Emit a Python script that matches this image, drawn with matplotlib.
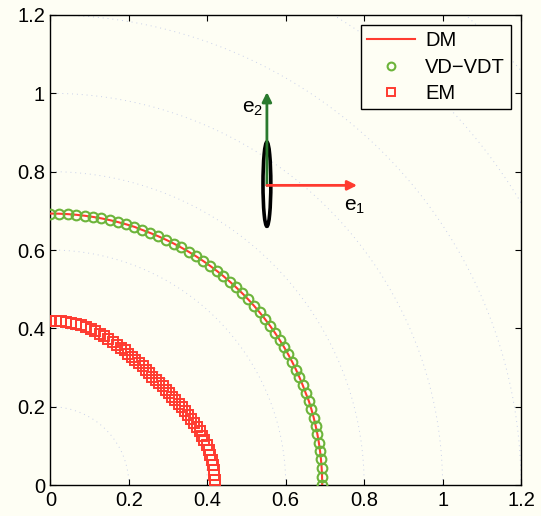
import numpy as np
import matplotlib
matplotlib.use('Agg')
import matplotlib.pyplot as plt
from matplotlib.patches import Ellipse

plt.rcParams['font.family'] = ['Liberation Sans', 'DejaVu Sans']
plt.rcParams['mathtext.fontset'] = 'custom'
plt.rcParams['mathtext.rm'] = 'Liberation Sans'
plt.rcParams['mathtext.it'] = 'Liberation Sans'

# angle of each sample (degrees), 0 .. 90
theta_deg = [0, 1.8, 3.6, 5.4, 7.2, 9, 10.8, 12.6, 14.4, 16.2, 18, 19.8, 21.6, 23.4, 25.2,
             27, 28.8, 30.6, 32.4, 34.2, 36, 37.8, 39.6, 41.4, 43.2, 45, 46.8, 48.6, 50.4,
             52.2, 54, 55.8, 57.6, 59.4, 61.2, 63, 64.8, 66.6, 68.4, 70.2, 72, 73.8, 75.6,
             77.4, 79.2, 81, 82.8, 84.6, 86.4, 88.2, 90]

# outer curve (DM line and VD-VDT markers lie on it)
r_dm = [0.693, 0.693, 0.693, 0.693, 0.693, 0.693, 0.693, 0.693, 0.693, 0.693, 0.693,
        0.692, 0.692, 0.692, 0.692, 0.692, 0.692, 0.692, 0.692, 0.692, 0.692, 0.692,
        0.692, 0.692, 0.692, 0.692, 0.692, 0.692, 0.692, 0.692, 0.692, 0.692, 0.692,
        0.692, 0.692, 0.692, 0.692, 0.692, 0.692, 0.692, 0.693, 0.693, 0.693, 0.693,
        0.693, 0.693, 0.693, 0.693, 0.693, 0.693, 0.693]
r_vdvdt = r_dm

# inner curve (EM)
r_em = [0.420, 0.420, 0.419, 0.419, 0.418, 0.416, 0.415, 0.413, 0.411, 0.409, 0.406,
        0.404, 0.401, 0.399, 0.396, 0.394, 0.392, 0.389, 0.387, 0.385, 0.384, 0.383,
        0.381, 0.381, 0.380, 0.380, 0.380, 0.381, 0.381, 0.383, 0.384, 0.385, 0.387,
        0.389, 0.392, 0.394, 0.396, 0.399, 0.401, 0.404, 0.406, 0.409, 0.411, 0.413,
        0.415, 0.416, 0.418, 0.419, 0.419, 0.420, 0.420]

grid_radii = [0.2, 0.4, 0.6, 0.8, 1.0, 1.2, 1.4, 1.6]
tick_vals = [0, 0.2, 0.4, 0.6, 0.8, 1.0, 1.2]
tick_labels = ['0', '0.2', '0.4', '0.6', '0.8', '1', '1.2']

# ellipse and frame vectors
ell_center = (0.552, 0.768)
ell_size = (0.02, 0.215)
vec_origin = (0.552, 0.765)
e1_tip = (0.782, 0.765)
e2_tip = (0.552, 1.003)
e1_text = (0.748, 0.700)
e2_text = (0.488, 0.950)

bg = '#fefef4'
red = '#ff3b30'
green_m = '#6cb43a'
green_a = '#2a7a2e'

fig = plt.figure(figsize=(5.41, 5.16), dpi=100, facecolor=bg)
ax = fig.add_axes([0.0933, 0.060, 0.8697, 0.911])
ax.set_facecolor(bg)

# dotted polar grid arcs
t = np.radians(np.linspace(0, 90, 200))
for r in grid_radii:
    ax.plot(r * np.cos(t), r * np.sin(t), linestyle=(0, (1, 4)), color='#c8d0ea',
            linewidth=0.7, zorder=1)

th = np.radians(theta_deg)
x_out = np.array(r_dm) * np.cos(th)
y_out = np.array(r_dm) * np.sin(th)
x_vd = np.array(r_vdvdt) * np.cos(th)
y_vd = np.array(r_vdvdt) * np.sin(th)
x_em = np.array(r_em) * np.cos(th)
y_em = np.array(r_em) * np.sin(th)

ax.plot(x_out, y_out, color=red, linewidth=1.5, label='DM', zorder=3)
ax.plot(x_vd, y_vd, linestyle='none', marker='o', markersize=7, markerfacecolor='none',
        markeredgecolor=green_m, markeredgewidth=1.5, label='VD\u2212VDT', zorder=4)
ax.plot(x_em, y_em, linestyle='none', marker='s', markersize=6.5, markerfacecolor='none',
        markeredgecolor=red, markeredgewidth=1.4, label='EM', zorder=4)

ax.add_patch(Ellipse(ell_center, ell_size[0], ell_size[1], fill=False,
                     edgecolor='black', linewidth=2.6, zorder=5))
ax.annotate('', xy=e2_tip, xytext=vec_origin,
            arrowprops=dict(arrowstyle='-|>', color=green_a, lw=2, mutation_scale=14,
                            shrinkA=0, shrinkB=0), zorder=6)
ax.annotate('', xy=e1_tip, xytext=vec_origin,
            arrowprops=dict(arrowstyle='-|>', color=red, lw=2, mutation_scale=14,
                            shrinkA=0, shrinkB=0), zorder=6)
ax.text(e1_text[0], e1_text[1], r'$\mathrm{e}_1$', fontsize=15)
ax.text(e2_text[0], e2_text[1], r'$\mathrm{e}_2$', fontsize=15)

ax.set_xlim(0, 1.2)
ax.set_ylim(0, 1.2)
ax.set_xticks(tick_vals)
ax.set_xticklabels(tick_labels)
ax.set_yticks(tick_vals)
ax.set_yticklabels(tick_labels)
ax.tick_params(direction='in', length=4, width=0.8, top=True, right=True,
               labelsize=14.5, pad=4)
for s in ax.spines.values():
    s.set_linewidth(1.0)

leg = ax.legend(loc='upper right', fontsize=14.5, handlelength=2.4, frameon=True,
                fancybox=False, edgecolor='black', facecolor=bg, framealpha=1,
                borderaxespad=0.5, labelspacing=0.38, handletextpad=0.5,
                borderpad=0.3, markerscale=0.8, numpoints=1)
leg.get_frame().set_linewidth(1.0)

fig.savefig('out.png', dpi=100, facecolor=bg)
